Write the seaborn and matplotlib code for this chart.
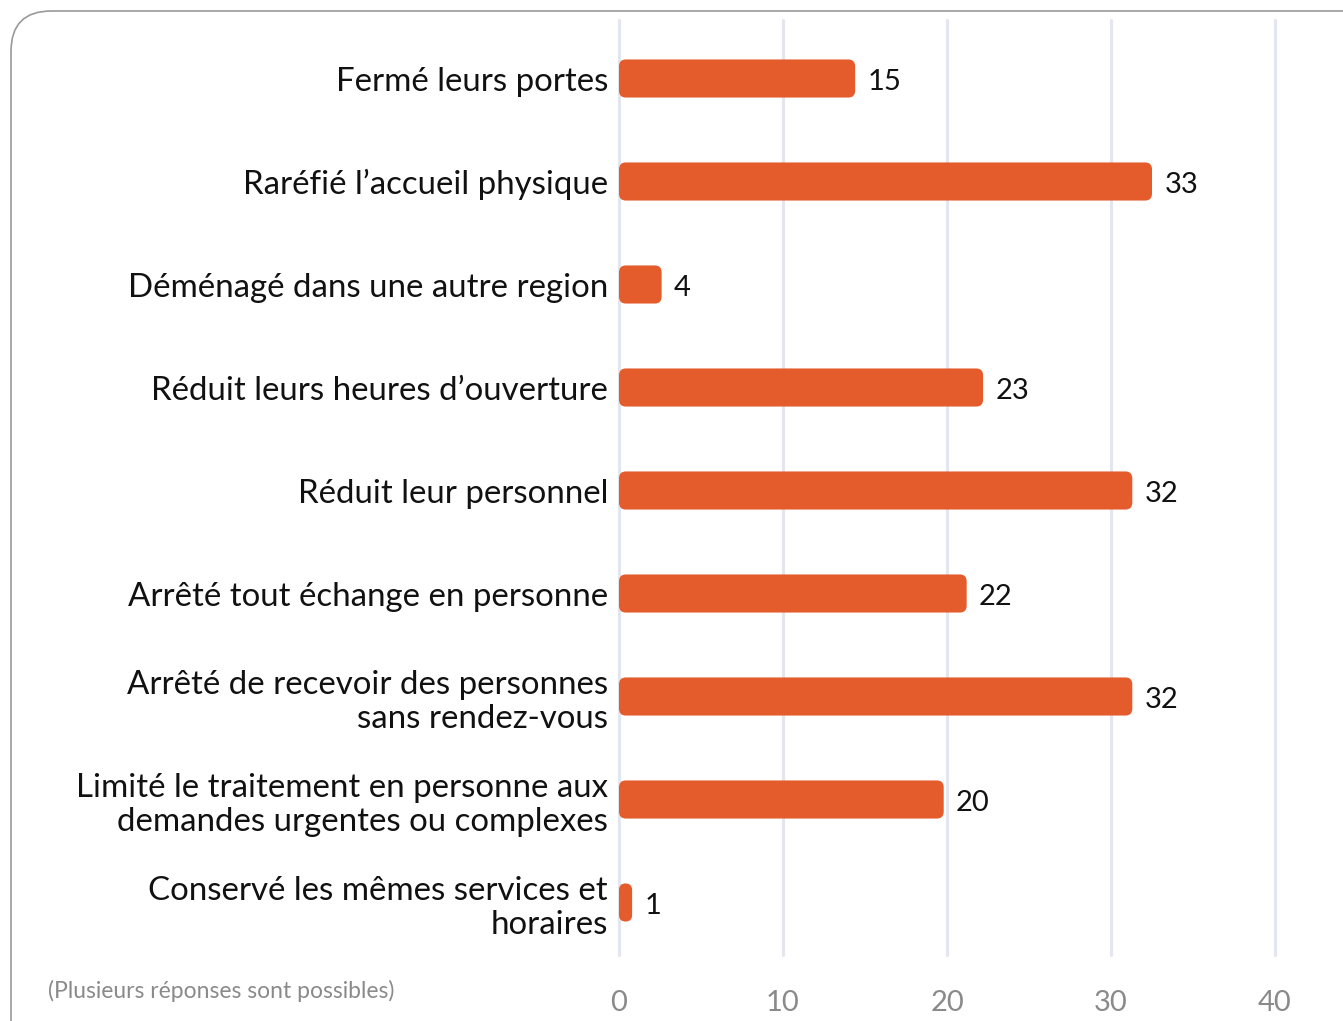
import matplotlib

matplotlib.use("Agg")
import matplotlib.pyplot as plt
import pandas as pd
import seaborn as sns
from matplotlib.patches import FancyBboxPatch

CATEGORIES = [
    "Fermé leurs portes",
    "Raréfié l’accueil physique",
    "Déménagé dans une autre region",
    "Réduit leurs heures d’ouverture",
    "Réduit leur personnel",
    "Arrêté tout échange en personne",
    "Arrêté de recevoir des personnes\nsans rendez-vous",
    "Limité le traitement en personne aux\ndemandes urgentes ou complexes",
    "Conservé les mêmes services et\nhoraires",
]
BAR_LENGTHS = [14.4, 32.5, 2.6, 22.2, 31.3, 21.2, 31.3, 19.8, 0.8]
VALUE_LABELS = ["15", "33", "4", "23", "32", "22", "32", "20", "1"]
XTICKS = [0, 10, 20, 30, 40]
NOTE = "(Plusieurs réponses sont possibles)"

BAR_COLOR = "#E55C2C"
GRID_COLOR = "#E3E6EF"
TICK_COLOR = "#8A8A8A"

sns.set_theme(style="white")
plt.rcParams["font.family"] = ["Lato", "DejaVu Sans"]

df = pd.DataFrame({"cat": CATEGORIES, "val": BAR_LENGTHS})

fig = plt.figure(figsize=(13.43, 10.21), dpi=100)
ax = fig.add_axes([619 / 1343, 1 - 954 / 1021, (1275 - 619) / 1343, (954 - 27) / 1021])

sns.barplot(data=df, x="val", y="cat", color=BAR_COLOR, width=0.37, ax=ax,
            saturation=1, zorder=3)

# remplace les barres par des barres arrondies
x_px = (1275 - 619) / 40
y_px = (954 - 27) / len(CATEGORIES)
for p in list(ax.patches):
    x0, y0, w, h = p.get_x(), p.get_y(), p.get_width(), p.get_height()
    p.remove()
    r = min(0.42, w / 2)
    rb = FancyBboxPatch((x0, y0), w, h,
                        boxstyle=f"round,pad=0,rounding_size={r}",
                        mutation_aspect=x_px / y_px,
                        facecolor=BAR_COLOR, edgecolor="none", zorder=3)
    ax.add_patch(rb)

for i, (v, lab) in enumerate(zip(BAR_LENGTHS, VALUE_LABELS)):
    ax.text(v + 0.75, i + 0.03, lab, va="center", ha="left",
            fontsize=21, color="#111111")

ax.set_xlim(0, 40)
ax.set_ylim(len(CATEGORIES) - 0.5, -0.5)
ax.set_xticks(XTICKS)
ax.set_xticklabels([str(t) for t in XTICKS], fontsize=21, color=TICK_COLOR)
ax.tick_params(axis="x", length=0, pad=26)
ax.tick_params(axis="y", length=0, pad=8, labelsize=23.8, labelcolor="#111111")
ax.set_xlabel("")
ax.set_ylabel("")
for lbl in ax.get_yticklabels():
    lbl.set_linespacing(1.18)
for s in ax.spines.values():
    s.set_visible(False)
for t in XTICKS:
    ax.axvline(t, color=GRID_COLOR, lw=2.2, zorder=1, ymin=-0.001, ymax=1.008,
               clip_on=False)

fig.text(48 / 1343, 1 - 991 / 1021, NOTE, fontsize=16.5, color=TICK_COLOR,
         va="center", ha="left")

frame = FancyBboxPatch((11 / 1343, -0.05), 1.1, 1 - 11 / 1021 + 0.05,
                       boxstyle="round,pad=0,rounding_size=0.03",
                       mutation_aspect=1343 / 1021,
                       transform=fig.transFigure, facecolor="none",
                       edgecolor="#9A9A9A", lw=1.2, zorder=0)
fig.patches.append(frame)

fig.savefig("out.png", dpi=100)
